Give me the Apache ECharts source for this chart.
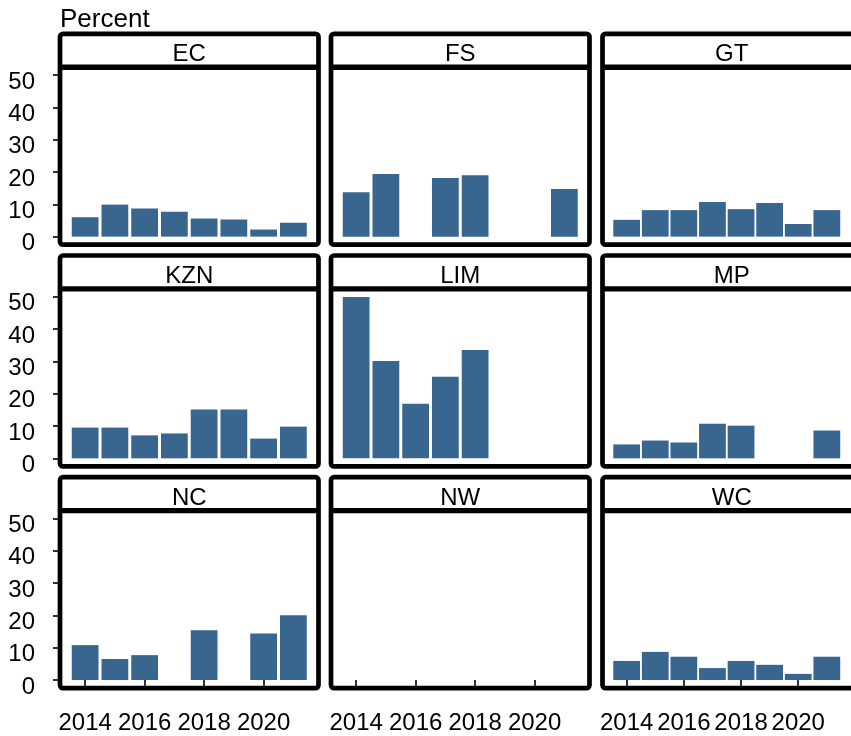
<!DOCTYPE html>
<html>
<head>
<meta charset="utf-8">
<script src="https://cdn.jsdelivr.net/npm/echarts@6/dist/echarts.min.js"></script>
<style>
  html, body { margin: 0; padding: 0; background: #fff; }
  #chart { width: 851px; height: 736px; }
</style>
</head>
<body>
<div id="chart"></div>
<script>
// Facet order (3 x 3) and the survey years on the x axis
const provinces = ['EC', 'FS', 'GT', 'KZN', 'LIM', 'MP', 'NC', 'NW', 'WC'];
const years = [2014, 2015, 2016, 2017, 2018, 2019, 2020, 2021];

// Percent per year for each province (null = no value that year)
const EC  = [6.0, 9.9, 8.7, 7.7, 5.6, 5.3, 2.2, 4.3];
const FS  = [13.7, 19.4, null, 18.1, 19.0, null, null, 14.7];
const GT  = [5.2, 8.2, 8.2, 10.7, 8.5, 10.4, 3.9, 8.2];
const KZN = [9.5, 9.5, 7.1, 7.7, 15.1, 15.1, 6.1, 9.8];
const LIM = [49.9, 30.1, 16.9, 25.2, 33.5, null, null, null];
const MP  = [4.3, 5.5, 4.9, 10.7, 10.1, null, null, 8.6];
const NC  = [10.8, 6.5, 7.7, null, 15.4, null, 14.4, 20.0];
const NW  = [null, null, null, null, null, null, null, null];
const WC  = [5.9, 8.7, 7.2, 3.7, 5.9, 4.7, 1.9, 7.2];

// Tick labels
const yTicks = [0, 10, 20, 30, 40, 50];
const xTicks = [2014, 2016, 2018, 2020];

const seriesByProvince = { EC, FS, GT, KZN, LIM, MP, NC, NW, WC };

// Layout of the facet grid (border-centre coordinates)
const colLeft = [60, 331, 602.5];
const rowTop = [33.8, 255.5, 477.2];
const panelW = 258.5;
const stripH = 33.4;
const panelH = 177.5;
const frameW = 4.7;
const barColor = '#38668F';
const font = "'Liberation Sans', Arial, Helvetica, sans-serif";

// Shared scales with 5% expansion on both axes
const allVals = provinces.flatMap(p => seriesByProvince[p]).filter(v => v != null);
const yMaxData = Math.max(...allVals);
const yMin = -0.05 * yMaxData;
const yMax = 1.05 * yMaxData;
const barFrac = 0.9;
const xSpan = (years[years.length - 1] - years[0]) + barFrac;
const xMin = years[0] - barFrac / 2 - 0.05 * xSpan;
const xMax = years[years.length - 1] + barFrac / 2 + 0.05 * xSpan;
const barPx = barFrac * panelW / (xMax - xMin);

const grids = [], xAxes = [], yAxes = [], series = [], graphics = [];

provinces.forEach((name, i) => {
  const r = Math.floor(i / 3), c = i % 3;
  const left = colLeft[c];
  const top = rowTop[r] + stripH;
  grids.push({ left: left, top: top, width: panelW, height: panelH, show: false, containLabel: false });

  const bottomRow = r === 2;
  const firstCol = c === 0;

  xAxes.push({
    type: 'value', gridIndex: i, min: xMin, max: xMax,
    splitLine: { show: false },
    axisLine: { show: false },
    axisTick: { show: bottomRow, customValues: xTicks, length: 7, lineStyle: { color: '#333', width: 2 } },
    axisLabel: {
      show: bottomRow, customValues: xTicks, margin: 35, verticalAlign: 'middle',
      color: '#000', fontSize: 24, fontFamily: font,
      formatter: v => String(v)
    }
  });
  yAxes.push({
    type: 'value', gridIndex: i, min: yMin, max: yMax,
    splitLine: { show: false },
    axisLine: { show: false },
    axisTick: { show: firstCol, customValues: yTicks, length: 7, lineStyle: { color: '#333', width: 2 } },
    axisLabel: {
      show: firstCol, customValues: yTicks, margin: 25,
      verticalAlign: 'top', lineHeight: 14,
      color: '#000', fontSize: 24, fontFamily: font
    }
  });

  const vals = seriesByProvince[name];
  series.push({
    type: 'bar', name: name, xAxisIndex: i, yAxisIndex: i,
    barWidth: barPx,
    itemStyle: { color: barColor },
    silent: true,
    data: years.map((y, k) => vals[k] == null ? null : [y, vals[k]]).filter(d => d)
  });

  // facet frame: strip + panel
  graphics.push({
    type: 'rect', z: 100,
    shape: { x: left, y: rowTop[r], width: panelW, height: stripH + panelH, r: 3 },
    style: { fill: 'none', stroke: '#000', lineWidth: frameW }
  });
  graphics.push({
    type: 'line', z: 100,
    shape: { x1: left, y1: top, x2: left + panelW, y2: top },
    style: { stroke: '#000', lineWidth: 5.4 }
  });
  graphics.push({
    type: 'text', z: 101,
    x: left + panelW / 2, y: rowTop[r] + stripH / 2 + 4,
    style: { text: name, fill: '#000', font: '24px ' + font, textAlign: 'center', textVerticalAlign: 'middle' }
  });
});

graphics.push({
  type: 'text', z: 101, x: 60, y: 20,
  style: { text: 'Percent', fill: '#000', font: '26px ' + font, textAlign: 'left', textVerticalAlign: 'middle' }
});

const chart = echarts.init(document.getElementById('chart'), null, { renderer: 'canvas' });
chart.setOption({
  animation: false,
  backgroundColor: '#fff',
  grid: grids,
  xAxis: xAxes,
  yAxis: yAxes,
  series: series,
  graphic: graphics
});
</script>
</body>
</html>
